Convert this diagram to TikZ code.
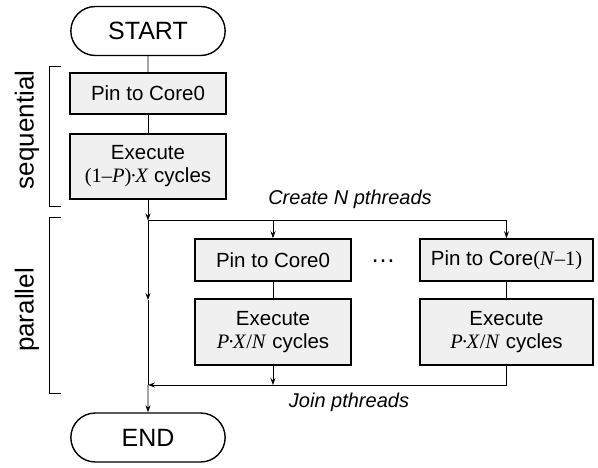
\documentclass[tikz,border=0pt]{standalone}
\usepackage{fontspec}
\setmainfont{Liberation Sans}
\newfontfamily\tnr{Liberation Serif}
\usepackage{tikz}
\usetikzlibrary{arrows.meta}
\usetikzlibrary{shapes}
\usetikzlibrary{positioning}

\newcommand{\cdt}{\kern-1.5pt·\kern-1.5pt}

\begin{document}
\begin{tikzpicture}[x=1pt, y=-1pt]
            \tikzset{box/.style={rectangle, draw=black, line width=1.6pt, fill=black!6,
                        minimum width=156pt, align=center, inner sep=2pt,
                        font=\fontsize{20.5}{23}\selectfont},
                    term/.style={rounded rectangle, draw=black, line width=1.4pt,
                        minimum width=161pt, minimum height=49pt,
                        font=\fontsize{25}{28}\selectfont},
                    lbl/.style={font=\fontsize{20}{22}\selectfont\itshape},
                    side/.style={font=\fontsize{26}{28}\selectfont, rotate=90},
                    >={Stealth[length=7pt, width=5pt]},
                    conn/.style={draw=black, line width=0.8pt}}
            \useasboundingbox (0,0) rectangle (598,468);
            % sequential part
            \node[term] (start) at (148, 31) {START};
            \node[box, minimum height=41pt] (pin0) at (148, 93.5) {Pin to Core0};
            \node[box, minimum height=65pt] (exe0) at (148, 166.5) {Execute\\{\tnr (1–\textit{P})\cdt\textit{X}} cycles};
            % parallel part
            \node[box, minimum height=42pt] (pinA) at (273, 260) {Pin to Core0};
            \node[box, minimum height=66pt] (exeA) at (273, 332) {Execute\\{\tnr\textit{P}\cdt\textit{X}/\textit{N}} cycles};
            \node[box, minimum height=42pt, minimum width=173pt] (pinB) at (506.5, 260) {Pin to Core{\tnr(\textit{N}–1)}};
            \node[box, minimum height=66pt, minimum width=173pt] (exeB) at (506.5, 332) {Execute\\{\tnr\textit{P}\cdt\textit{X}/\textit{N}} cycles};
            \node[font=\fontsize{25}{28}\selectfont] (dots) at (383, 261) {\dots};
            \node[term] (end) at (148, 437.5) {END};
            \coordinate (fork) at (148, 220.5);
            \coordinate (mid) at (148, 300);
            \coordinate (join) at (148, 385);
            % connectors
            \path[conn] (start) -- (pin0);
            \path[conn] (pin0) -- (exe0);
            \path[conn, ->] (exe0) -- (fork);
            \path[conn, ->] (fork) -- (mid);
            \path[conn] (mid) -- (join);
            \path[conn, ->] (join) -- (end);
            \path[conn, ->] (fork) -| (pinB);
            \path[conn, ->] (pinA |- fork) -- (pinA);
            \path[conn] (pinA) -- (exeA);
            \path[conn] (pinB) -- (exeB);
            \path[conn, ->] (exeA) -- (exeA |- join);
            \path[conn, ->] (exeB) |- (join);
            \node[lbl] (create) at (350, 199) {Create N pthreads};
            \node[lbl] (joinlbl) at (349, 402) {Join pthreads};
            % brackets
            \draw[line width=0.8pt] (61, 66) -- (49, 66) -- (49, 206) -- (61, 206);
            \draw[line width=0.8pt] (61, 217) -- (49, 217) -- (49, 393) -- (61, 393);
            \node[side] (seq) at (27, 130) {sequential};
            \node[side] (par) at (27, 310) {parallel};
        \end{tikzpicture}
\end{document}
